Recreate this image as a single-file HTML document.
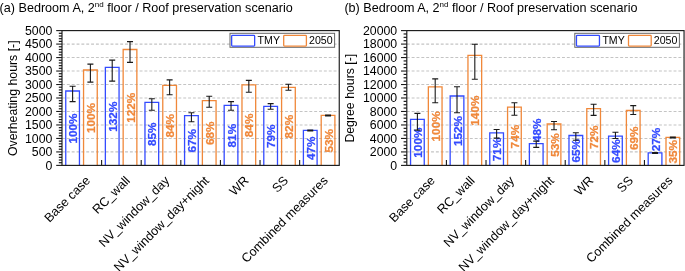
<!DOCTYPE html>
<html lang="en"><head><meta charset="utf-8"><title>Overheating hours and degree hours</title>
<style>
html,body{margin:0;padding:0;background:#fff;}
body{width:685px;height:271px;overflow:hidden;}
svg{display:block;font-family:"Liberation Sans",Arial,sans-serif;}
</style></head><body>
<svg width="685" height="271" viewBox="0 0 685 271">
<rect width="685" height="271" fill="#fff"/>
<g>
<text x="-0.4" y="11.8" font-size="12.6" fill="#000">(a) Bedroom A, 2<tspan font-size="8.0" dy="-4.5">nd</tspan><tspan dy="4.5"> floor / Roof preservation scenario</tspan></text>
<line x1="62.0" x2="338.75" y1="151.92" y2="151.92" stroke="#c4c4c4" stroke-width="1.1" stroke-dasharray="2.9 1.95" stroke-dashoffset="0"/>
<line x1="62.0" x2="338.75" y1="138.44" y2="138.44" stroke="#c4c4c4" stroke-width="1.1" stroke-dasharray="2.9 1.95" stroke-dashoffset="0"/>
<line x1="62.0" x2="338.75" y1="124.96" y2="124.96" stroke="#c4c4c4" stroke-width="1.1" stroke-dasharray="2.9 1.95" stroke-dashoffset="0"/>
<line x1="62.0" x2="338.75" y1="111.48" y2="111.48" stroke="#c4c4c4" stroke-width="1.1" stroke-dasharray="2.9 1.95" stroke-dashoffset="0"/>
<line x1="62.0" x2="338.75" y1="98.00" y2="98.00" stroke="#c4c4c4" stroke-width="1.1" stroke-dasharray="2.9 1.95" stroke-dashoffset="0"/>
<line x1="62.0" x2="338.75" y1="84.52" y2="84.52" stroke="#c4c4c4" stroke-width="1.1" stroke-dasharray="2.9 1.95" stroke-dashoffset="0"/>
<line x1="62.0" x2="338.75" y1="71.04" y2="71.04" stroke="#c4c4c4" stroke-width="1.1" stroke-dasharray="2.9 1.95" stroke-dashoffset="0"/>
<line x1="62.0" x2="338.75" y1="57.56" y2="57.56" stroke="#c4c4c4" stroke-width="1.1" stroke-dasharray="2.9 1.95" stroke-dashoffset="0"/>
<line x1="62.0" x2="338.75" y1="44.08" y2="44.08" stroke="#c4c4c4" stroke-width="1.1" stroke-dasharray="2.9 1.95" stroke-dashoffset="0"/>
<path d="M65.75 165.4V91.00H79.45V165.4" fill="none" stroke="#334bff" stroke-width="1.3"/>
<path d="M83.55 165.4V70.00H97.25V165.4" fill="none" stroke="#f0883a" stroke-width="1.3"/>
<path d="M105.36 165.4V67.40H119.06V165.4" fill="none" stroke="#334bff" stroke-width="1.3"/>
<path d="M123.16 165.4V49.50H136.86V165.4" fill="none" stroke="#f0883a" stroke-width="1.3"/>
<path d="M144.97 165.4V102.40H158.67V165.4" fill="none" stroke="#334bff" stroke-width="1.3"/>
<path d="M162.77 165.4V85.40H176.47V165.4" fill="none" stroke="#f0883a" stroke-width="1.3"/>
<path d="M184.57 165.4V115.60H198.27V165.4" fill="none" stroke="#334bff" stroke-width="1.3"/>
<path d="M202.38 165.4V100.60H216.07V165.4" fill="none" stroke="#f0883a" stroke-width="1.3"/>
<path d="M224.18 165.4V105.30H237.88V165.4" fill="none" stroke="#334bff" stroke-width="1.3"/>
<path d="M241.98 165.4V84.80H255.68V165.4" fill="none" stroke="#f0883a" stroke-width="1.3"/>
<path d="M263.79 165.4V106.40H277.49V165.4" fill="none" stroke="#334bff" stroke-width="1.3"/>
<path d="M281.59 165.4V87.30H295.29V165.4" fill="none" stroke="#f0883a" stroke-width="1.3"/>
<path d="M303.40 165.4V130.40H317.10V165.4" fill="none" stroke="#334bff" stroke-width="1.3"/>
<path d="M321.20 165.4V115.40H334.90V165.4" fill="none" stroke="#f0883a" stroke-width="1.3"/>
<text transform="translate(77.10,128.50) rotate(-90)" font-size="11.8" font-weight="bold" fill="#334bff" stroke="#334bff" stroke-width="0.25" text-anchor="middle">100%</text>
<path d="M72.60 86.30V101.60M69.60 86.30H75.60M69.60 101.60H75.60" stroke="#1a1a1a" stroke-width="1.1" fill="none"/>
<text transform="translate(94.90,118.00) rotate(-90)" font-size="11.8" font-weight="bold" fill="#f0883a" stroke="#f0883a" stroke-width="0.25" text-anchor="middle">100%</text>
<path d="M90.40 64.10V82.10M87.40 64.10H93.40M87.40 82.10H93.40" stroke="#1a1a1a" stroke-width="1.1" fill="none"/>
<text transform="translate(116.71,116.70) rotate(-90)" font-size="11.8" font-weight="bold" fill="#334bff" stroke="#334bff" stroke-width="0.25" text-anchor="middle">132%</text>
<path d="M112.21 60.15V81.10M109.21 60.15H115.21M109.21 81.10H115.21" stroke="#1a1a1a" stroke-width="1.1" fill="none"/>
<text transform="translate(134.51,107.75) rotate(-90)" font-size="11.8" font-weight="bold" fill="#f0883a" stroke="#f0883a" stroke-width="0.25" text-anchor="middle">122%</text>
<path d="M130.01 41.60V62.40M127.01 41.60H133.01M127.01 62.40H133.01" stroke="#1a1a1a" stroke-width="1.1" fill="none"/>
<text transform="translate(156.32,134.20) rotate(-90)" font-size="11.8" font-weight="bold" fill="#334bff" stroke="#334bff" stroke-width="0.25" text-anchor="middle">85%</text>
<path d="M151.82 98.70V110.20M148.82 98.70H154.82M148.82 110.20H154.82" stroke="#1a1a1a" stroke-width="1.1" fill="none"/>
<text transform="translate(174.12,125.70) rotate(-90)" font-size="11.8" font-weight="bold" fill="#f0883a" stroke="#f0883a" stroke-width="0.25" text-anchor="middle">84%</text>
<path d="M169.62 79.90V94.70M166.62 79.90H172.62M166.62 94.70H172.62" stroke="#1a1a1a" stroke-width="1.1" fill="none"/>
<text transform="translate(195.92,140.80) rotate(-90)" font-size="11.8" font-weight="bold" fill="#334bff" stroke="#334bff" stroke-width="0.25" text-anchor="middle">67%</text>
<path d="M191.42 112.70V121.80M188.42 112.70H194.42M188.42 121.80H194.42" stroke="#1a1a1a" stroke-width="1.1" fill="none"/>
<text transform="translate(213.72,133.30) rotate(-90)" font-size="11.8" font-weight="bold" fill="#f0883a" stroke="#f0883a" stroke-width="0.25" text-anchor="middle">68%</text>
<path d="M209.22 96.20V107.20M206.22 96.20H212.22M206.22 107.20H212.22" stroke="#1a1a1a" stroke-width="1.1" fill="none"/>
<text transform="translate(235.53,135.65) rotate(-90)" font-size="11.8" font-weight="bold" fill="#334bff" stroke="#334bff" stroke-width="0.25" text-anchor="middle">81%</text>
<path d="M231.03 101.60V110.20M228.03 101.60H234.03M228.03 110.20H234.03" stroke="#1a1a1a" stroke-width="1.1" fill="none"/>
<text transform="translate(253.33,125.40) rotate(-90)" font-size="11.8" font-weight="bold" fill="#f0883a" stroke="#f0883a" stroke-width="0.25" text-anchor="middle">84%</text>
<path d="M248.83 80.40V92.20M245.83 80.40H251.83M245.83 92.20H251.83" stroke="#1a1a1a" stroke-width="1.1" fill="none"/>
<text transform="translate(275.14,136.20) rotate(-90)" font-size="11.8" font-weight="bold" fill="#334bff" stroke="#334bff" stroke-width="0.25" text-anchor="middle">79%</text>
<path d="M270.64 103.60V109.30M267.64 103.60H273.64M267.64 109.30H273.64" stroke="#1a1a1a" stroke-width="1.1" fill="none"/>
<text transform="translate(292.94,126.65) rotate(-90)" font-size="11.8" font-weight="bold" fill="#f0883a" stroke="#f0883a" stroke-width="0.25" text-anchor="middle">82%</text>
<path d="M288.44 84.30V90.20M285.44 84.30H291.44M285.44 90.20H291.44" stroke="#1a1a1a" stroke-width="1.1" fill="none"/>
<text transform="translate(314.75,148.20) rotate(-90)" font-size="11.8" font-weight="bold" fill="#334bff" stroke="#334bff" stroke-width="0.25" text-anchor="middle">47%</text>
<path d="M310.25 130.00V130.90M307.25 130.00H313.25M307.25 130.90H313.25" stroke="#1a1a1a" stroke-width="1.1" fill="none"/>
<text transform="translate(332.55,140.70) rotate(-90)" font-size="11.8" font-weight="bold" fill="#f0883a" stroke="#f0883a" stroke-width="0.25" text-anchor="middle">53%</text>
<path d="M328.05 115.00V115.90M325.05 115.00H331.05M325.05 115.90H331.05" stroke="#1a1a1a" stroke-width="1.1" fill="none"/>
<line x1="101.61" x2="101.61" y1="165.4" y2="159.9" stroke="#1a1a1a" stroke-width="1.1"/>
<line x1="141.21" x2="141.21" y1="165.4" y2="159.9" stroke="#1a1a1a" stroke-width="1.1"/>
<line x1="180.82" x2="180.82" y1="165.4" y2="159.9" stroke="#1a1a1a" stroke-width="1.1"/>
<line x1="220.43" x2="220.43" y1="165.4" y2="159.9" stroke="#1a1a1a" stroke-width="1.1"/>
<line x1="260.04" x2="260.04" y1="165.4" y2="159.9" stroke="#1a1a1a" stroke-width="1.1"/>
<line x1="299.64" x2="299.64" y1="165.4" y2="159.9" stroke="#1a1a1a" stroke-width="1.1"/>
<line x1="56.2" x2="62.0" y1="165.40" y2="165.40" stroke="#1a1a1a" stroke-width="1.1"/>
<text x="52.4" y="169.75" font-size="12.3" fill="#000" text-anchor="end">0</text>
<line x1="58.8" x2="62.0" y1="162.70" y2="162.70" stroke="#1a1a1a" stroke-width="1.2"/>
<line x1="58.8" x2="62.0" y1="160.01" y2="160.01" stroke="#1a1a1a" stroke-width="1.2"/>
<line x1="58.8" x2="62.0" y1="157.31" y2="157.31" stroke="#1a1a1a" stroke-width="1.2"/>
<line x1="58.8" x2="62.0" y1="154.62" y2="154.62" stroke="#1a1a1a" stroke-width="1.2"/>
<line x1="56.2" x2="62.0" y1="151.92" y2="151.92" stroke="#1a1a1a" stroke-width="1.1"/>
<text x="52.4" y="156.27" font-size="12.3" fill="#000" text-anchor="end">500</text>
<line x1="58.8" x2="62.0" y1="149.22" y2="149.22" stroke="#1a1a1a" stroke-width="1.2"/>
<line x1="58.8" x2="62.0" y1="146.53" y2="146.53" stroke="#1a1a1a" stroke-width="1.2"/>
<line x1="58.8" x2="62.0" y1="143.83" y2="143.83" stroke="#1a1a1a" stroke-width="1.2"/>
<line x1="58.8" x2="62.0" y1="141.14" y2="141.14" stroke="#1a1a1a" stroke-width="1.2"/>
<line x1="56.2" x2="62.0" y1="138.44" y2="138.44" stroke="#1a1a1a" stroke-width="1.1"/>
<text x="52.4" y="142.79" font-size="12.3" fill="#000" text-anchor="end">1000</text>
<line x1="58.8" x2="62.0" y1="135.74" y2="135.74" stroke="#1a1a1a" stroke-width="1.2"/>
<line x1="58.8" x2="62.0" y1="133.05" y2="133.05" stroke="#1a1a1a" stroke-width="1.2"/>
<line x1="58.8" x2="62.0" y1="130.35" y2="130.35" stroke="#1a1a1a" stroke-width="1.2"/>
<line x1="58.8" x2="62.0" y1="127.66" y2="127.66" stroke="#1a1a1a" stroke-width="1.2"/>
<line x1="56.2" x2="62.0" y1="124.96" y2="124.96" stroke="#1a1a1a" stroke-width="1.1"/>
<text x="52.4" y="129.31" font-size="12.3" fill="#000" text-anchor="end">1500</text>
<line x1="58.8" x2="62.0" y1="122.26" y2="122.26" stroke="#1a1a1a" stroke-width="1.2"/>
<line x1="58.8" x2="62.0" y1="119.57" y2="119.57" stroke="#1a1a1a" stroke-width="1.2"/>
<line x1="58.8" x2="62.0" y1="116.87" y2="116.87" stroke="#1a1a1a" stroke-width="1.2"/>
<line x1="58.8" x2="62.0" y1="114.18" y2="114.18" stroke="#1a1a1a" stroke-width="1.2"/>
<line x1="56.2" x2="62.0" y1="111.48" y2="111.48" stroke="#1a1a1a" stroke-width="1.1"/>
<text x="52.4" y="115.83" font-size="12.3" fill="#000" text-anchor="end">2000</text>
<line x1="58.8" x2="62.0" y1="108.78" y2="108.78" stroke="#1a1a1a" stroke-width="1.2"/>
<line x1="58.8" x2="62.0" y1="106.09" y2="106.09" stroke="#1a1a1a" stroke-width="1.2"/>
<line x1="58.8" x2="62.0" y1="103.39" y2="103.39" stroke="#1a1a1a" stroke-width="1.2"/>
<line x1="58.8" x2="62.0" y1="100.70" y2="100.70" stroke="#1a1a1a" stroke-width="1.2"/>
<line x1="56.2" x2="62.0" y1="98.00" y2="98.00" stroke="#1a1a1a" stroke-width="1.1"/>
<text x="52.4" y="102.35" font-size="12.3" fill="#000" text-anchor="end">2500</text>
<line x1="58.8" x2="62.0" y1="95.30" y2="95.30" stroke="#1a1a1a" stroke-width="1.2"/>
<line x1="58.8" x2="62.0" y1="92.61" y2="92.61" stroke="#1a1a1a" stroke-width="1.2"/>
<line x1="58.8" x2="62.0" y1="89.91" y2="89.91" stroke="#1a1a1a" stroke-width="1.2"/>
<line x1="58.8" x2="62.0" y1="87.22" y2="87.22" stroke="#1a1a1a" stroke-width="1.2"/>
<line x1="56.2" x2="62.0" y1="84.52" y2="84.52" stroke="#1a1a1a" stroke-width="1.1"/>
<text x="52.4" y="88.87" font-size="12.3" fill="#000" text-anchor="end">3000</text>
<line x1="58.8" x2="62.0" y1="81.82" y2="81.82" stroke="#1a1a1a" stroke-width="1.2"/>
<line x1="58.8" x2="62.0" y1="79.13" y2="79.13" stroke="#1a1a1a" stroke-width="1.2"/>
<line x1="58.8" x2="62.0" y1="76.43" y2="76.43" stroke="#1a1a1a" stroke-width="1.2"/>
<line x1="58.8" x2="62.0" y1="73.74" y2="73.74" stroke="#1a1a1a" stroke-width="1.2"/>
<line x1="56.2" x2="62.0" y1="71.04" y2="71.04" stroke="#1a1a1a" stroke-width="1.1"/>
<text x="52.4" y="75.39" font-size="12.3" fill="#000" text-anchor="end">3500</text>
<line x1="58.8" x2="62.0" y1="68.34" y2="68.34" stroke="#1a1a1a" stroke-width="1.2"/>
<line x1="58.8" x2="62.0" y1="65.65" y2="65.65" stroke="#1a1a1a" stroke-width="1.2"/>
<line x1="58.8" x2="62.0" y1="62.95" y2="62.95" stroke="#1a1a1a" stroke-width="1.2"/>
<line x1="58.8" x2="62.0" y1="60.26" y2="60.26" stroke="#1a1a1a" stroke-width="1.2"/>
<line x1="56.2" x2="62.0" y1="57.56" y2="57.56" stroke="#1a1a1a" stroke-width="1.1"/>
<text x="52.4" y="61.91" font-size="12.3" fill="#000" text-anchor="end">4000</text>
<line x1="58.8" x2="62.0" y1="54.86" y2="54.86" stroke="#1a1a1a" stroke-width="1.2"/>
<line x1="58.8" x2="62.0" y1="52.17" y2="52.17" stroke="#1a1a1a" stroke-width="1.2"/>
<line x1="58.8" x2="62.0" y1="49.47" y2="49.47" stroke="#1a1a1a" stroke-width="1.2"/>
<line x1="58.8" x2="62.0" y1="46.78" y2="46.78" stroke="#1a1a1a" stroke-width="1.2"/>
<line x1="56.2" x2="62.0" y1="44.08" y2="44.08" stroke="#1a1a1a" stroke-width="1.1"/>
<text x="52.4" y="48.43" font-size="12.3" fill="#000" text-anchor="end">4500</text>
<line x1="58.8" x2="62.0" y1="41.38" y2="41.38" stroke="#1a1a1a" stroke-width="1.2"/>
<line x1="58.8" x2="62.0" y1="38.69" y2="38.69" stroke="#1a1a1a" stroke-width="1.2"/>
<line x1="58.8" x2="62.0" y1="35.99" y2="35.99" stroke="#1a1a1a" stroke-width="1.2"/>
<line x1="58.8" x2="62.0" y1="33.30" y2="33.30" stroke="#1a1a1a" stroke-width="1.2"/>
<line x1="56.2" x2="62.0" y1="30.60" y2="30.60" stroke="#1a1a1a" stroke-width="1.1"/>
<text x="52.4" y="34.95" font-size="12.3" fill="#000" text-anchor="end">5000</text>
<rect x="62.0" y="30.6" width="277.25" height="134.8" fill="none" stroke="#1a1a1a" stroke-width="1.15"/>
<text transform="translate(17.1,98.20) rotate(-90)" font-size="12.3" fill="#000" text-anchor="middle">Overheating hours [-]</text>
<text transform="translate(91.00,181.40) rotate(-45)" font-size="12.6" fill="#000" text-anchor="end">Base case</text>
<text transform="translate(130.61,181.40) rotate(-45)" font-size="12.6" fill="#000" text-anchor="end">RC_wall</text>
<text transform="translate(170.22,181.40) rotate(-45)" font-size="12.6" fill="#000" text-anchor="end">NV_window_day</text>
<text transform="translate(209.82,181.40) rotate(-45)" font-size="12.6" fill="#000" text-anchor="end">NV_window_day+night</text>
<text transform="translate(249.43,181.40) rotate(-45)" font-size="12.6" fill="#000" text-anchor="end">WR</text>
<text transform="translate(289.04,181.40) rotate(-45)" font-size="12.6" fill="#000" text-anchor="end">SS</text>
<text transform="translate(328.65,181.40) rotate(-45)" font-size="12.6" fill="#000" text-anchor="end">Combined measures</text>
<rect x="230.0" y="33.3" width="104.6" height="14.0" fill="#fff" stroke="#666" stroke-width="1"/>
<rect x="231.65" y="35.4" width="23.0" height="10.65" rx="0.8" fill="#fff" stroke="#334bff" stroke-width="1.3"/>
<text x="257.6" y="44.3" font-size="10.6" fill="#000">TMY</text>
<rect x="283.7" y="35.4" width="22.7" height="10.65" rx="0.8" fill="#fff" stroke="#f0883a" stroke-width="1.3"/>
<text x="309.0" y="44.3" font-size="10.6" fill="#000">2050</text>
</g>
<g>
<text x="344.40000000000003" y="11.8" font-size="12.6" fill="#000">(b) Bedroom A, 2<tspan font-size="8.0" dy="-4.5">nd</tspan><tspan dy="4.5"> floor / Roof preservation scenario</tspan></text>
<line x1="406.8" x2="683.55" y1="151.92" y2="151.92" stroke="#c4c4c4" stroke-width="1.1" stroke-dasharray="2.9 1.95" stroke-dashoffset="0"/>
<line x1="406.8" x2="683.55" y1="138.44" y2="138.44" stroke="#c4c4c4" stroke-width="1.1" stroke-dasharray="2.9 1.95" stroke-dashoffset="0"/>
<line x1="406.8" x2="683.55" y1="124.96" y2="124.96" stroke="#c4c4c4" stroke-width="1.1" stroke-dasharray="2.9 1.95" stroke-dashoffset="0"/>
<line x1="406.8" x2="683.55" y1="111.48" y2="111.48" stroke="#c4c4c4" stroke-width="1.1" stroke-dasharray="2.9 1.95" stroke-dashoffset="0"/>
<line x1="406.8" x2="683.55" y1="98.00" y2="98.00" stroke="#c4c4c4" stroke-width="1.1" stroke-dasharray="2.9 1.95" stroke-dashoffset="0"/>
<line x1="406.8" x2="683.55" y1="84.52" y2="84.52" stroke="#c4c4c4" stroke-width="1.1" stroke-dasharray="2.9 1.95" stroke-dashoffset="0"/>
<line x1="406.8" x2="683.55" y1="71.04" y2="71.04" stroke="#c4c4c4" stroke-width="1.1" stroke-dasharray="2.9 1.95" stroke-dashoffset="0"/>
<line x1="406.8" x2="683.55" y1="57.56" y2="57.56" stroke="#c4c4c4" stroke-width="1.1" stroke-dasharray="2.9 1.95" stroke-dashoffset="0"/>
<line x1="406.8" x2="683.55" y1="44.08" y2="44.08" stroke="#c4c4c4" stroke-width="1.1" stroke-dasharray="2.9 1.95" stroke-dashoffset="0"/>
<path d="M410.55 165.4V119.30H424.25V165.4" fill="none" stroke="#334bff" stroke-width="1.3"/>
<path d="M428.35 165.4V86.80H442.05V165.4" fill="none" stroke="#f0883a" stroke-width="1.3"/>
<path d="M450.16 165.4V96.00H463.86V165.4" fill="none" stroke="#334bff" stroke-width="1.3"/>
<path d="M467.96 165.4V55.30H481.66V165.4" fill="none" stroke="#f0883a" stroke-width="1.3"/>
<path d="M489.77 165.4V132.80H503.47V165.4" fill="none" stroke="#334bff" stroke-width="1.3"/>
<path d="M507.57 165.4V107.20H521.27V165.4" fill="none" stroke="#f0883a" stroke-width="1.3"/>
<path d="M529.38 165.4V143.60H543.08V165.4" fill="none" stroke="#334bff" stroke-width="1.3"/>
<path d="M547.17 165.4V124.00H560.88V165.4" fill="none" stroke="#f0883a" stroke-width="1.3"/>
<path d="M568.98 165.4V135.50H582.68V165.4" fill="none" stroke="#334bff" stroke-width="1.3"/>
<path d="M586.78 165.4V108.60H600.48V165.4" fill="none" stroke="#f0883a" stroke-width="1.3"/>
<path d="M608.59 165.4V136.20H622.29V165.4" fill="none" stroke="#334bff" stroke-width="1.3"/>
<path d="M626.39 165.4V110.50H640.09V165.4" fill="none" stroke="#f0883a" stroke-width="1.3"/>
<path d="M648.20 165.4V152.90H661.90V165.4" fill="none" stroke="#334bff" stroke-width="1.3"/>
<path d="M666.00 165.4V137.40H679.70V165.4" fill="none" stroke="#f0883a" stroke-width="1.3"/>
<text transform="translate(421.90,142.65) rotate(-90)" font-size="11.8" font-weight="bold" fill="#334bff" stroke="#334bff" stroke-width="0.25" text-anchor="middle">100%</text>
<path d="M417.40 113.40V130.10M414.40 113.40H420.40M414.40 130.10H420.40" stroke="#1a1a1a" stroke-width="1.1" fill="none"/>
<text transform="translate(439.70,126.40) rotate(-90)" font-size="11.8" font-weight="bold" fill="#f0883a" stroke="#f0883a" stroke-width="0.25" text-anchor="middle">100%</text>
<path d="M435.20 78.90V102.70M432.20 78.90H438.20M432.20 102.70H438.20" stroke="#1a1a1a" stroke-width="1.1" fill="none"/>
<text transform="translate(461.51,131.00) rotate(-90)" font-size="11.8" font-weight="bold" fill="#334bff" stroke="#334bff" stroke-width="0.25" text-anchor="middle">152%</text>
<path d="M457.01 86.80V112.70M454.01 86.80H460.01M454.01 112.70H460.01" stroke="#1a1a1a" stroke-width="1.1" fill="none"/>
<text transform="translate(479.31,110.65) rotate(-90)" font-size="11.8" font-weight="bold" fill="#f0883a" stroke="#f0883a" stroke-width="0.25" text-anchor="middle">140%</text>
<path d="M474.81 44.20V79.20M471.81 44.20H477.81M471.81 79.20H477.81" stroke="#1a1a1a" stroke-width="1.1" fill="none"/>
<text transform="translate(501.12,149.40) rotate(-90)" font-size="11.8" font-weight="bold" fill="#334bff" stroke="#334bff" stroke-width="0.25" text-anchor="middle">71%</text>
<path d="M496.62 129.50V138.10M493.62 129.50H499.62M493.62 138.10H499.62" stroke="#1a1a1a" stroke-width="1.1" fill="none"/>
<text transform="translate(518.92,136.60) rotate(-90)" font-size="11.8" font-weight="bold" fill="#f0883a" stroke="#f0883a" stroke-width="0.25" text-anchor="middle">74%</text>
<path d="M514.42 102.70V115.20M511.42 102.70H517.42M511.42 115.20H517.42" stroke="#1a1a1a" stroke-width="1.1" fill="none"/>
<text transform="translate(540.73,142.00) rotate(-90)" font-size="11.8" font-weight="bold" fill="#334bff" stroke="#334bff" stroke-width="0.25" text-anchor="start">48%</text>
<path d="M536.23 141.10V147.40M533.23 141.10H539.23M533.23 147.40H539.23" stroke="#1a1a1a" stroke-width="1.1" fill="none"/>
<text transform="translate(558.52,145.00) rotate(-90)" font-size="11.8" font-weight="bold" fill="#f0883a" stroke="#f0883a" stroke-width="0.25" text-anchor="middle">53%</text>
<path d="M554.02 121.50V129.70M551.02 121.50H557.02M551.02 129.70H557.02" stroke="#1a1a1a" stroke-width="1.1" fill="none"/>
<text transform="translate(580.33,150.75) rotate(-90)" font-size="11.8" font-weight="bold" fill="#334bff" stroke="#334bff" stroke-width="0.25" text-anchor="middle">65%</text>
<path d="M575.83 132.70V140.30M572.83 132.70H578.83M572.83 140.30H578.83" stroke="#1a1a1a" stroke-width="1.1" fill="none"/>
<text transform="translate(598.13,137.30) rotate(-90)" font-size="11.8" font-weight="bold" fill="#f0883a" stroke="#f0883a" stroke-width="0.25" text-anchor="middle">72%</text>
<path d="M593.63 104.30V115.40M590.63 104.30H596.63M590.63 115.40H596.63" stroke="#1a1a1a" stroke-width="1.1" fill="none"/>
<text transform="translate(619.94,151.10) rotate(-90)" font-size="11.8" font-weight="bold" fill="#334bff" stroke="#334bff" stroke-width="0.25" text-anchor="middle">64%</text>
<path d="M615.44 132.20V138.50M612.44 132.20H618.44M612.44 138.50H618.44" stroke="#1a1a1a" stroke-width="1.1" fill="none"/>
<text transform="translate(637.74,138.25) rotate(-90)" font-size="11.8" font-weight="bold" fill="#f0883a" stroke="#f0883a" stroke-width="0.25" text-anchor="middle">69%</text>
<path d="M633.24 105.60V114.50M630.24 105.60H636.24M630.24 114.50H636.24" stroke="#1a1a1a" stroke-width="1.1" fill="none"/>
<text transform="translate(659.55,151.30) rotate(-90)" font-size="11.8" font-weight="bold" fill="#334bff" stroke="#334bff" stroke-width="0.25" text-anchor="start">27%</text>
<path d="M655.05 152.50V153.40M652.05 152.50H658.05M652.05 153.40H658.05" stroke="#1a1a1a" stroke-width="1.1" fill="none"/>
<text transform="translate(677.35,151.70) rotate(-90)" font-size="11.8" font-weight="bold" fill="#f0883a" stroke="#f0883a" stroke-width="0.25" text-anchor="middle">35%</text>
<path d="M672.85 137.00V137.90M669.85 137.00H675.85M669.85 137.90H675.85" stroke="#1a1a1a" stroke-width="1.1" fill="none"/>
<line x1="446.41" x2="446.41" y1="165.4" y2="159.9" stroke="#1a1a1a" stroke-width="1.1"/>
<line x1="486.01" x2="486.01" y1="165.4" y2="159.9" stroke="#1a1a1a" stroke-width="1.1"/>
<line x1="525.62" x2="525.62" y1="165.4" y2="159.9" stroke="#1a1a1a" stroke-width="1.1"/>
<line x1="565.23" x2="565.23" y1="165.4" y2="159.9" stroke="#1a1a1a" stroke-width="1.1"/>
<line x1="604.84" x2="604.84" y1="165.4" y2="159.9" stroke="#1a1a1a" stroke-width="1.1"/>
<line x1="644.44" x2="644.44" y1="165.4" y2="159.9" stroke="#1a1a1a" stroke-width="1.1"/>
<line x1="401.0" x2="406.8" y1="165.40" y2="165.40" stroke="#1a1a1a" stroke-width="1.1"/>
<text x="397.2" y="169.75" font-size="12.3" fill="#000" text-anchor="end">0</text>
<line x1="403.6" x2="406.8" y1="162.03" y2="162.03" stroke="#1a1a1a" stroke-width="1.2"/>
<line x1="403.6" x2="406.8" y1="158.66" y2="158.66" stroke="#1a1a1a" stroke-width="1.2"/>
<line x1="403.6" x2="406.8" y1="155.29" y2="155.29" stroke="#1a1a1a" stroke-width="1.2"/>
<line x1="401.0" x2="406.8" y1="151.92" y2="151.92" stroke="#1a1a1a" stroke-width="1.1"/>
<text x="397.2" y="156.27" font-size="12.3" fill="#000" text-anchor="end">2000</text>
<line x1="403.6" x2="406.8" y1="148.55" y2="148.55" stroke="#1a1a1a" stroke-width="1.2"/>
<line x1="403.6" x2="406.8" y1="145.18" y2="145.18" stroke="#1a1a1a" stroke-width="1.2"/>
<line x1="403.6" x2="406.8" y1="141.81" y2="141.81" stroke="#1a1a1a" stroke-width="1.2"/>
<line x1="401.0" x2="406.8" y1="138.44" y2="138.44" stroke="#1a1a1a" stroke-width="1.1"/>
<text x="397.2" y="142.79" font-size="12.3" fill="#000" text-anchor="end">4000</text>
<line x1="403.6" x2="406.8" y1="135.07" y2="135.07" stroke="#1a1a1a" stroke-width="1.2"/>
<line x1="403.6" x2="406.8" y1="131.70" y2="131.70" stroke="#1a1a1a" stroke-width="1.2"/>
<line x1="403.6" x2="406.8" y1="128.33" y2="128.33" stroke="#1a1a1a" stroke-width="1.2"/>
<line x1="401.0" x2="406.8" y1="124.96" y2="124.96" stroke="#1a1a1a" stroke-width="1.1"/>
<text x="397.2" y="129.31" font-size="12.3" fill="#000" text-anchor="end">6000</text>
<line x1="403.6" x2="406.8" y1="121.59" y2="121.59" stroke="#1a1a1a" stroke-width="1.2"/>
<line x1="403.6" x2="406.8" y1="118.22" y2="118.22" stroke="#1a1a1a" stroke-width="1.2"/>
<line x1="403.6" x2="406.8" y1="114.85" y2="114.85" stroke="#1a1a1a" stroke-width="1.2"/>
<line x1="401.0" x2="406.8" y1="111.48" y2="111.48" stroke="#1a1a1a" stroke-width="1.1"/>
<text x="397.2" y="115.83" font-size="12.3" fill="#000" text-anchor="end">8000</text>
<line x1="403.6" x2="406.8" y1="108.11" y2="108.11" stroke="#1a1a1a" stroke-width="1.2"/>
<line x1="403.6" x2="406.8" y1="104.74" y2="104.74" stroke="#1a1a1a" stroke-width="1.2"/>
<line x1="403.6" x2="406.8" y1="101.37" y2="101.37" stroke="#1a1a1a" stroke-width="1.2"/>
<line x1="401.0" x2="406.8" y1="98.00" y2="98.00" stroke="#1a1a1a" stroke-width="1.1"/>
<text x="397.2" y="102.35" font-size="12.3" fill="#000" text-anchor="end">10000</text>
<line x1="403.6" x2="406.8" y1="94.63" y2="94.63" stroke="#1a1a1a" stroke-width="1.2"/>
<line x1="403.6" x2="406.8" y1="91.26" y2="91.26" stroke="#1a1a1a" stroke-width="1.2"/>
<line x1="403.6" x2="406.8" y1="87.89" y2="87.89" stroke="#1a1a1a" stroke-width="1.2"/>
<line x1="401.0" x2="406.8" y1="84.52" y2="84.52" stroke="#1a1a1a" stroke-width="1.1"/>
<text x="397.2" y="88.87" font-size="12.3" fill="#000" text-anchor="end">12000</text>
<line x1="403.6" x2="406.8" y1="81.15" y2="81.15" stroke="#1a1a1a" stroke-width="1.2"/>
<line x1="403.6" x2="406.8" y1="77.78" y2="77.78" stroke="#1a1a1a" stroke-width="1.2"/>
<line x1="403.6" x2="406.8" y1="74.41" y2="74.41" stroke="#1a1a1a" stroke-width="1.2"/>
<line x1="401.0" x2="406.8" y1="71.04" y2="71.04" stroke="#1a1a1a" stroke-width="1.1"/>
<text x="397.2" y="75.39" font-size="12.3" fill="#000" text-anchor="end">14000</text>
<line x1="403.6" x2="406.8" y1="67.67" y2="67.67" stroke="#1a1a1a" stroke-width="1.2"/>
<line x1="403.6" x2="406.8" y1="64.30" y2="64.30" stroke="#1a1a1a" stroke-width="1.2"/>
<line x1="403.6" x2="406.8" y1="60.93" y2="60.93" stroke="#1a1a1a" stroke-width="1.2"/>
<line x1="401.0" x2="406.8" y1="57.56" y2="57.56" stroke="#1a1a1a" stroke-width="1.1"/>
<text x="397.2" y="61.91" font-size="12.3" fill="#000" text-anchor="end">16000</text>
<line x1="403.6" x2="406.8" y1="54.19" y2="54.19" stroke="#1a1a1a" stroke-width="1.2"/>
<line x1="403.6" x2="406.8" y1="50.82" y2="50.82" stroke="#1a1a1a" stroke-width="1.2"/>
<line x1="403.6" x2="406.8" y1="47.45" y2="47.45" stroke="#1a1a1a" stroke-width="1.2"/>
<line x1="401.0" x2="406.8" y1="44.08" y2="44.08" stroke="#1a1a1a" stroke-width="1.1"/>
<text x="397.2" y="48.43" font-size="12.3" fill="#000" text-anchor="end">18000</text>
<line x1="403.6" x2="406.8" y1="40.71" y2="40.71" stroke="#1a1a1a" stroke-width="1.2"/>
<line x1="403.6" x2="406.8" y1="37.34" y2="37.34" stroke="#1a1a1a" stroke-width="1.2"/>
<line x1="403.6" x2="406.8" y1="33.97" y2="33.97" stroke="#1a1a1a" stroke-width="1.2"/>
<line x1="401.0" x2="406.8" y1="30.60" y2="30.60" stroke="#1a1a1a" stroke-width="1.1"/>
<text x="397.2" y="34.95" font-size="12.3" fill="#000" text-anchor="end">20000</text>
<rect x="406.8" y="30.6" width="277.24999999999994" height="134.8" fill="none" stroke="#1a1a1a" stroke-width="1.15"/>
<text transform="translate(354.40000000000003,98.20) rotate(-90)" font-size="12.3" fill="#000" text-anchor="middle">Degree hours [-]</text>
<text transform="translate(435.80,181.40) rotate(-45)" font-size="12.6" fill="#000" text-anchor="end">Base case</text>
<text transform="translate(475.41,181.40) rotate(-45)" font-size="12.6" fill="#000" text-anchor="end">RC_wall</text>
<text transform="translate(515.02,181.40) rotate(-45)" font-size="12.6" fill="#000" text-anchor="end">NV_window_day</text>
<text transform="translate(554.62,181.40) rotate(-45)" font-size="12.6" fill="#000" text-anchor="end">NV_window_day+night</text>
<text transform="translate(594.23,181.40) rotate(-45)" font-size="12.6" fill="#000" text-anchor="end">WR</text>
<text transform="translate(633.84,181.40) rotate(-45)" font-size="12.6" fill="#000" text-anchor="end">SS</text>
<text transform="translate(673.45,181.40) rotate(-45)" font-size="12.6" fill="#000" text-anchor="end">Combined measures</text>
<rect x="574.8" y="33.3" width="104.6" height="14.0" fill="#fff" stroke="#666" stroke-width="1"/>
<rect x="576.4499999999999" y="35.4" width="23.0" height="10.65" rx="0.8" fill="#fff" stroke="#334bff" stroke-width="1.3"/>
<text x="602.4" y="44.3" font-size="10.6" fill="#000">TMY</text>
<rect x="628.5" y="35.4" width="22.7" height="10.65" rx="0.8" fill="#fff" stroke="#f0883a" stroke-width="1.3"/>
<text x="653.8" y="44.3" font-size="10.6" fill="#000">2050</text>
</g>
</svg>
</body></html>
